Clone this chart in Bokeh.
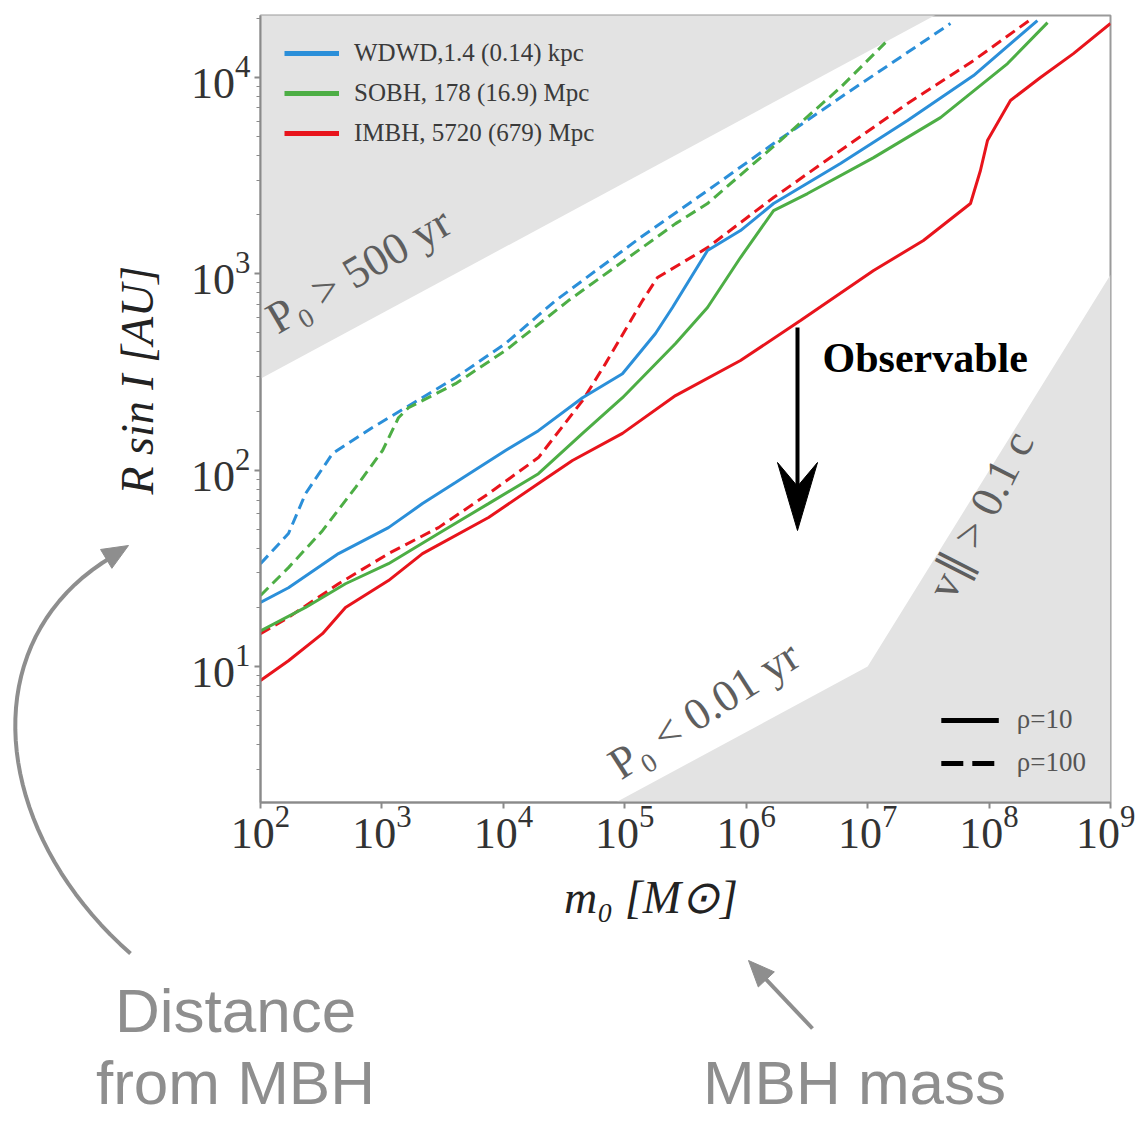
import math
from bokeh.plotting import figure
from bokeh.models import (Range1d, Label, Legend, LegendItem, FixedTicker,
                          LinearScale)
from bokeh.core.properties import value
from bokeh.embed import file_html
from bokeh.resources import INLINE

# ---------------- data ----------------
m_min, m_max = 1e2, 1e9          # MBH mass range [Msun]
r_min, r_max = 2.03, 2.07e4      # R sin I range [AU]

x_ticks = [1e2, 1e3, 1e4, 1e5, 1e6, 1e7, 1e8, 1e9]
y_ticks = [1e1, 1e2, 1e3, 1e4]
y_minor = [k * 10.0 ** e for e in range(0, 5) for k in range(2, 10)]

# WDWD, rho = 10 (solid) / rho = 100 (dashed)
wdwd_rho10_m = [100, 170, 439, 1132, 2158, 4036, 10420, 19450, 44870, 95700,
                179000, 247000, 480000, 897000, 1.68e6, 5.97e6, 2.13e7,
                7.45e7, 2.5e8]
wdwd_rho10_r = [21.2, 25.2, 37.6, 51, 67.6, 86.5, 126, 159, 234, 310, 497,
                674, 1315, 1662, 2282, 3648, 6040, 10230, 19500]
wdwd_rho100_m = [100, 170, 235, 392, 836, 1563, 4036, 10420, 26920, 134600,
                 480000, 1.68e6, 5.97e6, 4.81e7]
wdwd_rho100_r = [33.4, 47.6, 76, 121.6, 165, 208, 296, 442, 731, 1531, 2657,
                 4610, 7910, 18840]

# SOBH
sobh_rho10_m = [100, 235, 501, 1132, 2924, 7550, 19450, 44870, 95700, 261800,
                480000, 897000, 1.68e6, 3.2e6, 1.12e7, 3.98e7, 1.42e8, 3.03e8]
sobh_rho10_r = [15.2, 20, 26.4, 33.4, 47.6, 67.6, 96, 154, 234, 442, 674,
                1211, 2101, 2565, 3908, 6250, 11780, 19050]
sobh_rho100_m = [100, 170, 324, 605, 1012, 1368, 1656, 4036, 10420, 34360,
                 261800, 480000, 1.91e6, 5.97e6, 1.40e7]
sobh_rho100_r = [23, 31.9, 49.2, 81.5, 126, 185, 208, 276, 407, 731, 1803,
                 2282, 4775, 8890, 15070]

# IMBH
imbh_rho10_m = [100, 170, 324, 501, 1132, 2158, 7550, 19450, 37070, 95700,
                261800, 897000, 2.8e6, 1.12e7, 2.88e7, 7.03e7, 8.49e7, 9.7e7,
                1.5e8, 2.65e8, 4.95e8, 1e9]
imbh_rho10_r = [8.48, 10.7, 14.7, 20, 27.4, 37.6, 57.4, 85.5, 112, 154, 240,
                362, 578, 1040, 1479, 2282, 3360, 4775, 7640, 10000, 13240,
                18840]
imbh_rho100_m = [100, 170, 439, 1132, 2924, 7550, 19450, 44870, 69340, 140000,
                 185800, 480000, 1.68e6, 5.97e6, 2.13e7, 7.45e7, 2.32e8]
imbh_rho100_r = [14.7, 17.8, 26.4, 37.6, 51, 76, 116, 226, 349, 731, 958,
                 1361, 2447, 4248, 7380, 12210, 20230]

# excluded regions (boundaries)
p0_500_m = [50, 1e8]            # P0 = 500 yr line
p0_500_r = [232, 2.92e4]
lower_m = [3e4, 1e7, 1e9]       # P0 = 0.01 yr, then v = 0.1 c
lower_r = [1.44, 10, 990]

series_labels = ["WDWD,1.4 (0.14) kpc", "SOBH, 178 (16.9) Mpc",
                 "IMBH, 5720 (679) Mpc"]
rho_labels = ["ρ=10", "ρ=100"]
captions = ["Distance", "from MBH", "MBH mass"]

# ---------------- styling ----------------
BLUE, GREEN, RED = "#2b8fd9", "#4dae45", "#e8141c"
SHADE = "#e3e3e3"
SERIF = "Liberation Serif"
SANS = "Liberation Sans"
DASH = "11 6"
NB = "\u00a0"

W, H = 1135, 1124
FL, FR, FT, FB = 260, 1110, 15, 802   # frame edges on the canvas

p = figure(width=W, height=H, x_axis_type="log", y_axis_type="log",
           x_range=Range1d(m_min, m_max), y_range=Range1d(r_min, r_max),
           output_backend="svg", toolbar_location=None,
           min_border_left=FL, min_border_right=W - FR,
           min_border_top=FT, min_border_bottom=H - FB)
p.grid.grid_line_color = None
p.outline_line_color = "#9a9a9a"
p.outline_line_width = 2
p.background_fill_color = "white"
p.border_fill_color = "white"

# pixel-space ranges for the decorations around the chart
p.extra_x_ranges = {"px": Range1d(FL, FR)}
p.extra_y_ranges = {"py": Range1d(FB, FT)}
p.extra_x_scales = {"px": LinearScale()}
p.extra_y_scales = {"py": LinearScale()}
PIX = dict(x_range_name="px", y_range_name="py", level="overlay")

# shaded regions
p.patch(p0_500_m + [p0_500_m[0]], p0_500_r + [p0_500_r[-1]],
        fill_color=SHADE, line_color=None)
p.patch(lower_m + [lower_m[-1]], lower_r + [lower_r[0]],
        fill_color=SHADE, line_color=None)

# curves
p.line(wdwd_rho100_m, wdwd_rho100_r, color=BLUE, line_width=3, line_dash=DASH)
p.line(sobh_rho100_m, sobh_rho100_r, color=GREEN, line_width=3, line_dash=DASH)
p.line(imbh_rho100_m, imbh_rho100_r, color=RED, line_width=3, line_dash=DASH)
p.line(wdwd_rho10_m, wdwd_rho10_r, color=BLUE, line_width=3)
p.line(sobh_rho10_m, sobh_rho10_r, color=GREEN, line_width=3)
p.line(imbh_rho10_m, imbh_rho10_r, color=RED, line_width=3)

# axes
p.xaxis.ticker = FixedTicker(ticks=x_ticks)
p.yaxis.ticker = FixedTicker(ticks=y_ticks, minor_ticks=y_minor)
for ax in (p.xaxis[0], p.yaxis[0]):
    ax.axis_line_color = "#8a8a8a"
    ax.axis_line_width = 2
    ax.major_tick_line_color = "#8a8a8a"
    ax.major_tick_line_width = 2
    ax.major_tick_out = 6
    ax.major_tick_in = 0
    ax.major_label_text_font = SERIF
    ax.major_label_text_font_size = "44px"
    ax.major_label_text_color = "#333333"
    ax.axis_label_text_font = SERIF
    ax.axis_label_text_font_style = "italic"
    ax.axis_label_text_font_size = "46px"
    ax.axis_label_text_color = "#222222"
p.xaxis.major_label_standoff = -2
p.yaxis.major_label_standoff = 4
p.xaxis.minor_tick_line_color = None
p.yaxis.minor_tick_line_color = "#8a8a8a"
p.yaxis.minor_tick_out = 4
p.yaxis.minor_tick_in = 0
p.yaxis.axis_label = NB * 5 + "R sin I [AU]"
p.yaxis.axis_label_standoff = 25
p.xaxis.axis_label = "m₀ [M⊙]" + NB * 6
p.xaxis.axis_label_standoff = 21

# legends (sample lines drawn outside the visible ranges)
lw_b = p.line([1, 2], [1, 1], color=BLUE, line_width=5)
lw_g = p.line([1, 2], [1, 1], color=GREEN, line_width=5)
lw_r = p.line([1, 2], [1, 1], color=RED, line_width=5)
leg1 = Legend(items=[LegendItem(label=series_labels[0], renderers=[lw_b]),
                     LegendItem(label=series_labels[1], renderers=[lw_g]),
                     LegendItem(label=series_labels[2], renderers=[lw_r])],
              location="top_left", margin=24, padding=0, spacing=12,
              glyph_width=55, glyph_height=20, label_height=20,
              label_standoff=15, label_text_font=SERIF,
              label_text_font_size="25px", label_text_color="#3a3a3a",
              background_fill_alpha=0, border_line_color=None)
p.add_layout(leg1)

ls_1 = p.line([1, 2], [1, 1], color="black", line_width=5)
ls_2 = p.line([1, 2], [1, 1], color="black", line_width=5, line_dash="22 9")
leg2 = Legend(items=[LegendItem(label=rho_labels[0], renderers=[ls_1]),
                     LegendItem(label=rho_labels[1], renderers=[ls_2])],
              location="bottom_right", margin=24, padding=0, spacing=12,
              glyph_width=58, glyph_height=20, label_height=20,
              label_standoff=18, label_text_font=SERIF,
              label_text_font_size="27px", label_text_color="#555555",
              background_fill_alpha=0, border_line_color=None)
p.add_layout(leg2)

# region labels
GRAYTXT = "#5e5e5e"
p.add_layout(Label(x=120, y=570, text="P₀ > 500 yr", angle=0.53,
                   text_font=SERIF, text_font_size="45px",
                   text_color=GRAYTXT, text_baseline="alphabetic"))
p.add_layout(Label(x=8.0e4, y=3.05, text="P₀ < 0.01 yr", angle=0.57,
                   text_font=SERIF, text_font_size="45px",
                   text_color=GRAYTXT, text_baseline="alphabetic"))
p.add_layout(Label(x=3.9e7, y=23.0, text="v∥ > 0.1 c", angle=1.1,
                   text_font=SERIF, text_font_size="45px",
                   text_color=GRAYTXT, text_baseline="alphabetic"))
p.add_layout(Label(x=4.25e6, y=375, text="Observable", text_font=SERIF,
                   text_font_style="bold", text_font_size="42px",
                   text_color="black", text_baseline="middle"))


# ---------- decorative arrows, in canvas pixels ----------
def head(tip, frm, length, width, notch=0.0):
    tx, ty = tip
    dx, dy = tx - frm[0], ty - frm[1]
    n = math.hypot(dx, dy)
    ux, uy = dx / n, dy / n
    bx, by = tx - ux * length, ty - uy * length
    px, py = -uy, ux
    pts = [(bx + px * width / 2, by + py * width / 2), (tx, ty),
           (bx - px * width / 2, by - py * width / 2)]
    if notch:
        pts.append((bx + ux * length * notch, by + uy * length * notch))
    return [a for a, b in pts], [b for a, b in pts]


# Observable arrow
p.line([797, 797], [327, 495], color="black", line_width=4, **PIX)
hx, hy = head((797, 530), (797, 327), 68, 40, notch=0.35)
p.patch(hx, hy, color="black", **PIX)

ARROW_GRAY = "#8e8e8e"
# curved arrow pointing at the y axis title
P0, C1, C2, P3 = (130, 953), (-10, 830), (-30, 640), (112, 556)
cx, cy = [], []
for i in range(41):
    t = i / 40
    a, b, c, d = (1 - t) ** 3, 3 * (1 - t) ** 2 * t, 3 * (1 - t) * t ** 2, t ** 3
    cx.append(a * P0[0] + b * C1[0] + c * C2[0] + d * P3[0])
    cy.append(a * P0[1] + b * C1[1] + c * C2[1] + d * P3[1])
p.line(cx, cy, color=ARROW_GRAY, line_width=4, **PIX)
hx, hy = head((128, 545), C2, 26, 22)
p.patch(hx, hy, color=ARROW_GRAY, **PIX)

# straight arrow pointing at the x axis title
p.line([812, 760], [1028, 973], color=ARROW_GRAY, line_width=4, **PIX)
hx, hy = head((748, 960), (812, 1028), 26, 22)
p.patch(hx, hy, color=ARROW_GRAY, **PIX)

# bottom captions
p.text(x=[235, 235, 854], y=[1010, 1082, 1082], text=captions,
       text_align="center", text_baseline="alphabetic",
       text_font=value(SANS), text_font_size=value("62px"),
       text_color="#8e8e8e", **PIX)

open("out.html", "w").write(file_html(p, INLINE))
